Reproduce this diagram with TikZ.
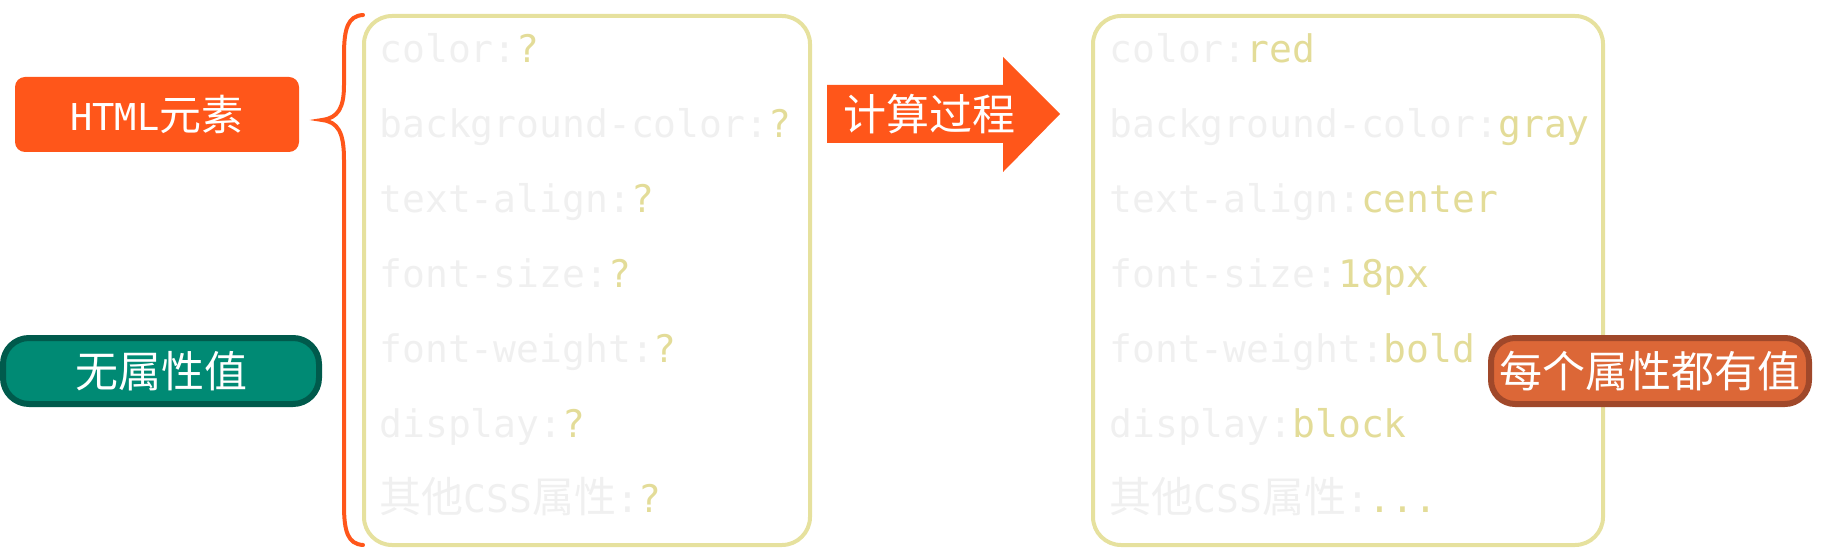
\documentclass[tikz,border=0pt]{standalone}
\usepackage{fontspec}
\setmonofont{DejaVu Sans Mono}
\newfontfamily\cjk{Noto Sans CJK SC}
\definecolor{orng}{HTML}{FF561A}
\definecolor{khaki}{HTML}{E6E19E}
\definecolor{valc}{HTML}{E3DC98}
\definecolor{keyc}{HTML}{F0F0F0}
\definecolor{teal1}{HTML}{008A74}
\definecolor{teal2}{HTML}{005A4C}
\definecolor{rust1}{HTML}{DC6737}
\definecolor{rust2}{HTML}{A0482A}
\newcommand{\zh}[1]{{\cjk\fontsize{21}{24}\selectfont #1}}
\begin{document}
\begin{tikzpicture}[x=0.5pt,y=-0.5pt,
  keytext/.style={anchor=base west,inner sep=0pt,text=keyc,font=\ttfamily\fontsize{19}{22}\selectfont},
  panel/.style={draw=khaki,line width=2pt,rounded corners=14pt},
  label/.style={text=white,font=\cjk\fontsize{21.5}{24}\selectfont,inner sep=0pt}]
\useasboundingbox (0,0) rectangle (1823,550);
% left label boxes
\fill[orng,rounded corners=5pt] (15,77) rectangle (299,152);
\node[inner sep=0pt,text=white] (html) at (157,114.5) {\ttfamily\fontsize{18.5}{22}\selectfont HTML\zh{元素}};
\draw[teal2,fill=teal1,line width=3pt,rounded corners=13pt] (3,338) rectangle (319,404);
\node[label] (none) at (161,371) {无属性值};
% brace
\draw[orng,line width=2pt,line cap=round] (363,15) .. controls (348,16) and (344,28) .. (344,55) -- (344,85) .. controls (344,108) and (338,118) .. (322,120) .. controls (338,122) and (344,132) .. (344,160) -- (344,505) .. controls (344,532) and (348,544) .. (363,545);
% left panel
\draw[panel] (364,16) rectangle (810,545);
\node[keytext] (l1) at (379,63) {color:\textcolor{valc}{?}};
\node[keytext] (l2) at (379,138) {background-color:\textcolor{valc}{?}};
\node[keytext] (l3) at (379,213) {text-align:\textcolor{valc}{?}};
\node[keytext] (l4) at (379,288) {font-size:\textcolor{valc}{?}};
\node[keytext] (l5) at (379,362) {font-weight:\textcolor{valc}{?}};
\node[keytext] (l6) at (379,437) {display:\textcolor{valc}{?}};
\node[keytext] (l7) at (379,512) {\zh{其他}CSS\zh{属性}:\textcolor{valc}{?}};
% arrow
\fill[orng] (827,85) -- (1003,85) -- (1003,57) -- (1060,114) -- (1003,172) -- (1003,143) -- (827,143) -- cycle;
\node[label] (calc) at (929.5,114) {计算过程};
% right panel
\draw[panel] (1093,16) rectangle (1603,545);
\node[keytext] (r1) at (1109,63) {color:\textcolor{valc}{red}};
\node[keytext] (r2) at (1109,138) {background-color:\textcolor{valc}{gray}};
\node[keytext] (r3) at (1109,213) {text-align:\textcolor{valc}{center}};
\node[keytext] (r4) at (1109,288) {font-size:\textcolor{valc}{18px}};
\node[keytext] (r5) at (1109,362) {font-weight:\textcolor{valc}{bold}};
\node[keytext] (r6) at (1109,437) {display:\textcolor{valc}{block}};
\node[keytext] (r7) at (1109,512) {\zh{其他}CSS\zh{属性}:\textcolor{valc}{...}};
% result box
\draw[rust2,fill=rust1,line width=3pt,rounded corners=12pt] (1491,338) rectangle (1809,404);
\node[label] (all) at (1650,371) {每个属性都有值};
\end{tikzpicture}
\end{document}
